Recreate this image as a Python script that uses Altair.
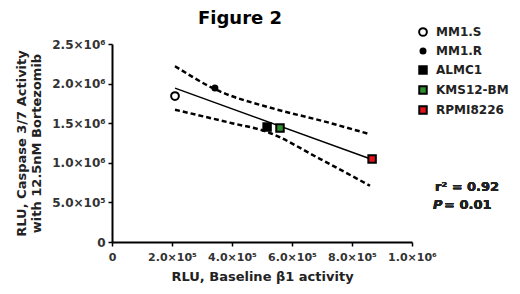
import altair as alt
import pandas as pd

# ---- data ----
cells = ["MM1.S", "MM1.R", "ALMC1", "KMS12-BM", "RPMI8226"]
baseline_b1 = [2.10e5, 3.43e5, 5.17e5, 5.60e5, 8.67e5]
caspase = [1.843e6, 1.944e6, 1.452e6, 1.439e6, 1.048e6]

upper_x = [2.10e5, 3.43e5, 5.43e5, 7.00e5, 8.60e5]
upper_y = [2.22e6, 1.93e6, 1.68e6, 1.53e6, 1.36e6]
lower_x = [2.10e5, 4.00e5, 5.10e5, 6.93e5, 8.60e5]
lower_y = [1.67e6, 1.50e6, 1.40e6, 1.05e6, 0.71e6]

shapes = ["circle", "circle", "square", "square", "square"]
fills = ["white", "black", "black", "#2f8f2f", "#e3121c"]
strokes = ["black"] * 5
sizes = [60, 25, 56, 56, 56]

FONT = "DejaVu Sans"
TXT = "#222222"

pts = pd.DataFrame({"cell": cells, "x": baseline_b1, "y": caspase})
band = pd.DataFrame({
    "x": upper_x + lower_x,
    "y": upper_y + lower_y,
    "band": ["upper"] * len(upper_x) + ["lower"] * len(lower_x),
})

xscale = alt.Scale(domain=[0, 1.0e6], nice=False)
yscale = alt.Scale(domain=[0, 2.5e6], nice=False)

lab_x = ("datum.value == 0 ? '0' : (datum.value >= 1e6 ? format(datum.value/1e6, '.1f') + '×10⁶' "
         ": format(datum.value/1e5, '.1f') + '×10⁵')")

xaxis = alt.Axis(values=[0, 2e5, 4e5, 6e5, 8e5, 1e6], labelExpr=lab_x, grid=False,
                 labelOverlap=False, labelFlush=False, labelPadding=5, labelFontSize=11,
                 title="RLU, Baseline β1 activity", titlePadding=8)
yaxis = alt.Axis(values=[0, 5e5, 1e6, 1.5e6, 2e6, 2.5e6], labelExpr=lab_x, grid=False,
                 labelOverlap=False, labelFlush=False, labelPadding=3, labelFontSize=12,
                 title=["RLU, Caspase 3/7 Activity", "with 12.5nM Bortezomib"], titlePadding=8)

base_x = alt.X("x:Q", scale=xscale, axis=xaxis)
base_y = alt.Y("y:Q", scale=yscale, axis=yaxis)

bands = alt.Chart(band).mark_line(color="black", strokeWidth=2.5, strokeDash=[5, 3],
                                  interpolate="monotone").encode(
    x=base_x, y=base_y, detail="band:N")

reg = alt.Chart(pts).transform_regression("x", "y").mark_line(
    color="black", strokeWidth=1.5).encode(x=base_x, y=base_y)

leg = alt.Legend(title=None, symbolStrokeWidth=2, symbolOpacity=1)

points = alt.Chart(pts).mark_point(filled=True, strokeWidth=2, opacity=1).encode(
    x=base_x, y=base_y,
    shape=alt.Shape("cell:N", sort=cells, scale=alt.Scale(domain=cells, range=shapes), legend=leg),
    fill=alt.Fill("cell:N", sort=cells, scale=alt.Scale(domain=cells, range=fills), legend=leg),
    stroke=alt.Stroke("cell:N", sort=cells, scale=alt.Scale(domain=cells, range=strokes), legend=leg),
    size=alt.Size("cell:N", sort=cells,
                  scale=alt.Scale(type="ordinal", domain=cells, range=sizes), legend=leg),
)

ann1 = alt.Chart(pts).mark_text(align="left", baseline="middle", font=FONT, fontWeight="bold",
                                fontSize=13, color=TXT).encode(
    x=alt.value(323), y=alt.value(143), text=alt.value("r² = 0.92"))
ann2 = alt.Chart(pts).mark_text(align="left", baseline="middle", font=FONT, fontWeight="bold",
                                fontStyle="italic", fontSize=13, color=TXT).encode(
    x=alt.value(321), y=alt.value(161), text=alt.value("P"))
ann3 = alt.Chart(pts).mark_text(align="left", baseline="middle", font=FONT, fontWeight="bold",
                                fontSize=13, color=TXT).encode(
    x=alt.value(332), y=alt.value(161), text=alt.value(" = 0.01"))

chart = alt.layer(bands, reg, points, ann1, ann2, ann3).properties(
    width=300, height=198,
    autosize=alt.AutoSizeParams(type="none"),
    padding={"left": 104, "top": 36, "right": 100, "bottom": 43},
    title=alt.TitleParams("Figure 2", font=FONT, fontSize=18, fontWeight="bold", color="black",
                          anchor="start", dx=86, offset=-2, frame="group"),
).configure_view(stroke=None).configure_axis(
    labelFont=FONT, labelFontWeight="bold", labelColor="#333333",
    titleFont=FONT, titleFontSize=13, titleFontWeight="bold", titleColor=TXT,
    domainColor="black", domainWidth=2, tickColor="black", tickWidth=1.5, tickSize=4,
).configure_legend(
    orient="none", legendX=305, legendY=-18, labelFont=FONT, labelFontSize=12,
    labelFontWeight="bold", labelColor=TXT, labelOffset=7, rowPadding=4,
)

chart.save("out.html", embed_options={"renderer": "svg", "actions": False})
